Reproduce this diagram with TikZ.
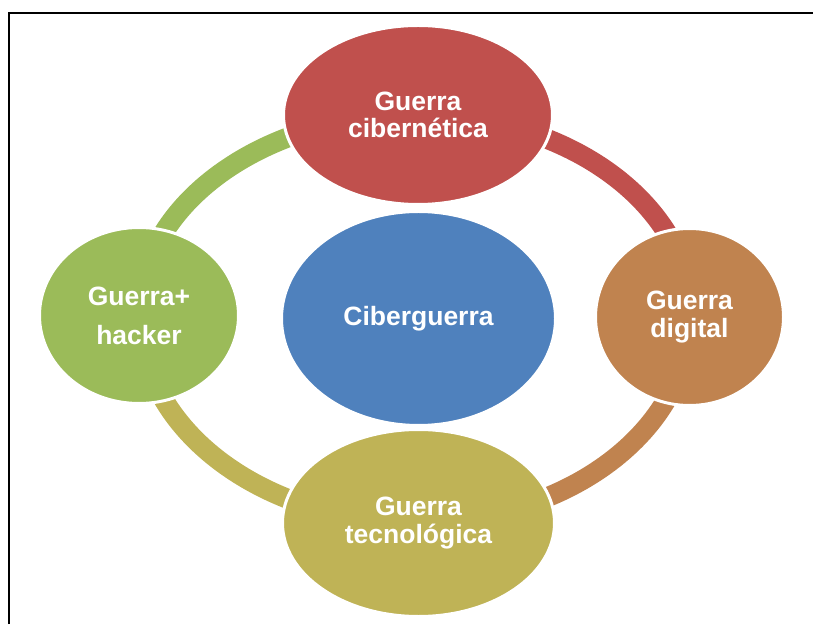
\documentclass[tikz,border=0pt]{standalone}
\usepackage{fontspec}
\setmainfont{Liberation Sans}
\usetikzlibrary{shapes.geometric,backgrounds}
\definecolor{cred}{HTML}{C0504D}
\definecolor{corange}{HTML}{C0834F}
\definecolor{colive}{HTML}{BFB356}
\definecolor{cgreen}{HTML}{9BBB59}
\definecolor{cblue}{HTML}{4F81BD}
\begin{document}
\begin{tikzpicture}[x=1pt,y=1pt,
  bubble/.style={ellipse, inner sep=0pt, draw=white, line width=3pt, text=white, align=center,
    font=\fontsize{26.5}{27.5}\selectfont\bfseries},
  ringarc/.style={line width=20pt}]
\useasboundingbox (0,0) rectangle (813,624);
\draw[line width=2pt] (9,0) -- (9,611) -- (813,611);
\node[bubble, fill=cblue, minimum width=274pt, minimum height=214pt] (core) at (418.5,305.5) {Ciberguerra};
\node[bubble, fill=cred, minimum width=269pt, minimum height=179pt] (top) at (418,509) {Guerra\\cibernética};
\node[bubble, fill=corange, minimum width=188pt, minimum height=177pt] (right) at (689.5,307) {Guerra\\digital};
\node[bubble, fill=colive, minimum width=272pt, minimum height=187pt] (bottom) at (418.5,101) {Guerra\\tecnológica};
\node[bubble, fill=cgreen, minimum width=199pt, minimum height=176pt] (left) at (139,308.5) {Guerra+\\[11.5pt]hacker};
\begin{scope}[on background layer]
\draw[ringarc, cred] (top.center) arc[start angle=90, end angle=0, x radius=274pt, y radius=203pt];
\draw[ringarc, corange] (right.center) arc[start angle=0, end angle=-90, x radius=272pt, y radius=205pt];
\draw[ringarc, colive] (bottom.center) arc[start angle=-90, end angle=-180, x radius=278pt, y radius=206pt];
\draw[ringarc, cgreen] (left.center) arc[start angle=180, end angle=90, x radius=278pt, y radius=201pt];
\end{scope}
\end{tikzpicture}
\end{document}
